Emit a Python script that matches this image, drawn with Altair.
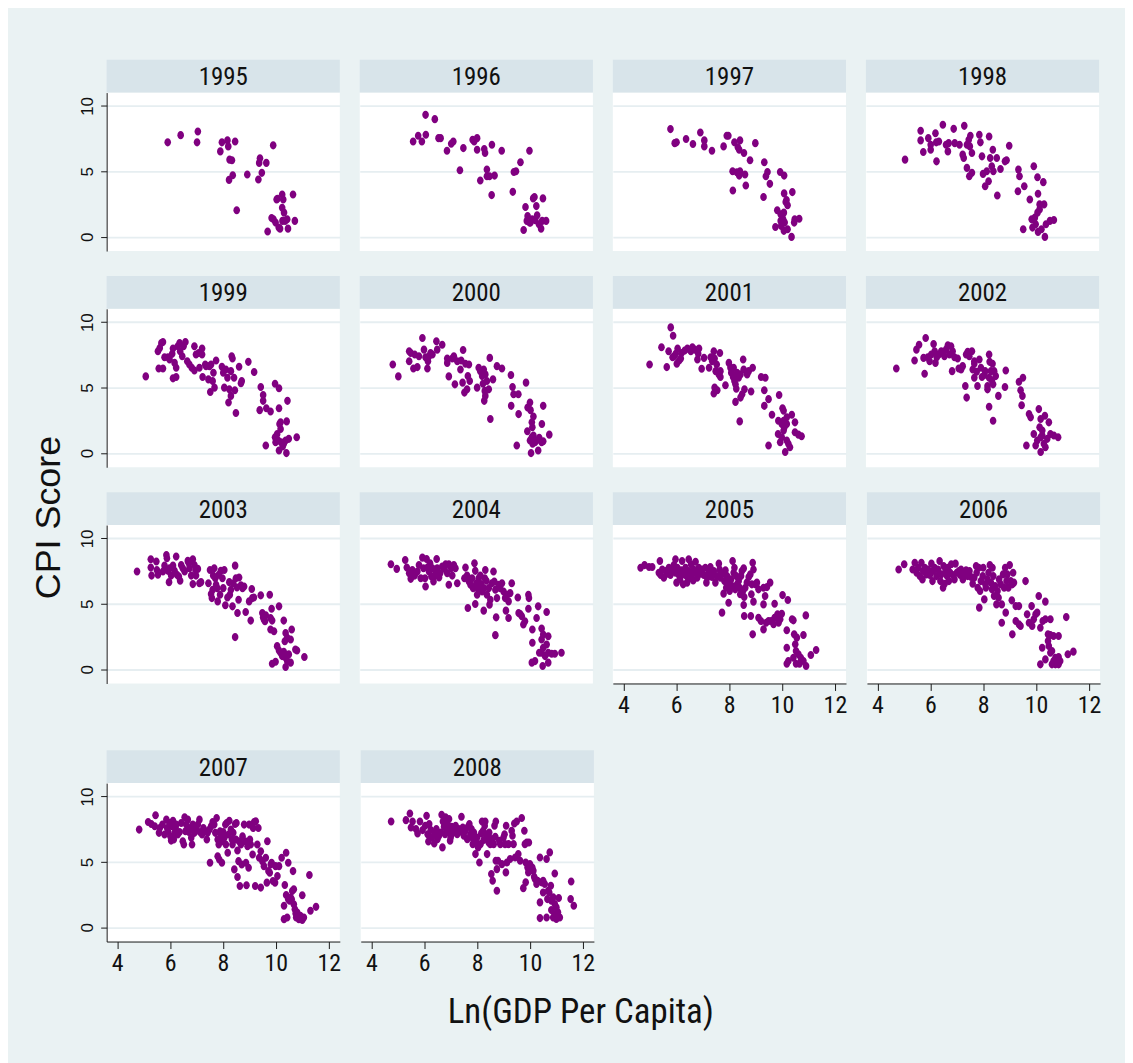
import altair as alt
import pandas as pd

# ---------------- data: (ln GDP per capita, CPI score) ----------------
years = [1995, 1996, 1997, 1998, 1999, 2000, 2001, 2002, 2003, 2004, 2005, 2006, 2007, 2008]

p1995 = [(5.91,7.22),(6.40,7.77),(7.02,7.22),(7.05,8.05),(7.90,6.53),(7.96,7.22),(8.17,7.37),(8.20,6.91),
         (8.46,7.29),(8.25,5.90),(8.34,5.85),(8.37,4.71),(8.23,4.35),(8.52,2.03),(8.92,4.76),(9.34,4.38),
         (9.37,5.65),(9.40,6.00),(9.47,4.89),(9.64,5.65),(9.90,6.99),(9.69,0.41),(9.84,1.44),(9.91,1.34),
         (9.99,1.09),(10.06,2.91),(10.11,0.71),(10.16,0.63),(10.24,3.24),(10.24,2.23),(10.28,2.86),(10.31,1.85),
         (10.25,1.22),(10.35,1.22),(10.43,1.34),(10.46,0.63),(10.65,3.24),(10.72,1.22),(10.03,2.86)]

p1996 = [(5.62,7.29),(5.81,7.72),(5.95,7.29),(6.10,7.80),(6.09,9.32),(6.44,8.99),(6.58,7.54),(6.66,7.54),
         (6.90,6.58),(7.06,7.11),(7.14,7.29),(7.39,5.09),(7.52,6.78),(7.87,7.42),(7.93,7.29),(8.04,7.54),
         (8.04,6.66),(8.31,6.71),(8.34,6.41),(8.16,4.30),(8.41,5.14),(8.41,4.63),(8.51,4.63),(8.60,7.04),
         (8.59,3.19),(8.70,4.68),(8.97,6.58),(9.39,3.44),(9.43,4.96),(9.51,5.01),(9.68,5.70),(10.02,6.58),
         (9.80,0.53),(9.87,2.28),(9.95,1.59),(9.97,1.27),(10.06,1.09),(10.12,1.34),(10.16,2.94),(10.21,3.04),
         (10.24,1.27),(10.28,2.35),(10.31,1.65),(10.38,0.96),(10.46,0.63),(10.50,1.22),(10.53,2.94),(10.65,1.22),
         (10.02,1.09),(9.92,1.22)]

p1997 = [(5.78,8.23),(5.94,7.16),(6.01,7.22),(6.37,7.47),(6.63,7.09),(6.91,7.97),(7.06,7.37),(7.06,6.91),
         (7.35,6.58),(7.79,6.91),(7.91,7.72),(7.97,7.72),(8.20,7.22),(8.33,6.84),(8.41,7.37),(8.38,6.66),
         (8.56,6.41),(8.79,5.85),(8.99,7.16),(9.33,5.70),(8.13,5.01),(8.29,4.94),(8.41,5.01),(8.38,4.68),
         (8.60,4.76),(8.63,3.92),(8.14,3.54),(9.45,4.96),(9.39,4.63),(9.54,4.05),(9.30,3.04),(9.93,4.96),
         (10.08,4.68),(10.08,3.32),(10.39,3.42),(10.14,2.66),(10.21,2.41),(10.17,2.81),(9.82,2.03),(9.95,1.72),
         (10.07,1.85),(10.04,1.34),(10.10,1.09),(9.75,0.76),(9.97,0.84),(10.07,0.46),(10.21,0.58),(10.46,1.09),
         (10.48,1.34),(10.65,1.39),(10.36,0.00),(9.95,1.22),(10.00,1.59)]

p1998 = [(5.08,5.90),(5.67,8.10),(5.67,7.37),(5.77,6.48),(5.96,7.54),(6.05,7.04),(6.05,6.66),(6.23,7.92),
         (6.26,7.22),(6.27,5.77),(6.36,7.29),(6.51,8.56),(6.63,7.04),(6.70,6.53),(6.73,7.16),(6.92,8.25),
         (6.96,7.16),(7.14,7.04),(7.26,6.28),(7.30,6.03),(7.32,8.48),(7.42,7.04),(7.49,7.42),(7.55,7.72),
         (7.61,6.41),(7.53,6.91),(7.42,5.27),(7.61,4.89),(7.51,4.63),(7.89,7.80),(7.93,7.22),(7.99,6.15),
         (8.03,4.81),(8.11,3.87),(8.17,5.01),(8.24,4.25),(8.26,7.67),(8.30,6.03),(8.36,5.39),(8.40,6.66),
         (8.42,5.01),(8.55,6.03),(8.57,3.16),(8.69,5.19),(8.86,5.77),(8.92,5.85),(9.02,6.96),(9.37,5.14),
         (9.41,4.63),(9.35,3.49),(9.59,3.87),(9.80,2.86),(9.95,5.39),(10.09,4.56),(10.31,4.18),(10.11,3.29),
         (10.17,2.48),(10.34,2.48),(10.09,1.85),(9.87,1.34),(9.90,0.71),(10.02,0.96),(10.11,0.38),(10.24,0.58),
         (10.37,0.00),(10.41,0.96),(10.56,1.22),(10.71,1.29),(9.55,0.58),(9.99,1.47),(10.17,2.10)]

p1999 = [(5.08,5.86),(5.54,7.78),(5.61,8.03),(5.67,8.41),(5.73,8.48),(5.57,6.46),(5.73,6.46),(5.79,7.32),
         (5.92,7.32),(5.98,7.15),(6.11,7.98),(6.08,7.58),(6.17,6.89),(6.23,6.52),(6.11,5.71),(6.23,5.81),
         (6.29,8.16),(6.36,8.41),(6.38,7.78),(6.46,7.40),(6.51,8.16),(6.58,8.48),(6.65,7.02),(6.73,6.77),
         (6.82,6.52),(6.92,8.16),(6.92,6.31),(6.98,7.53),(7.08,7.65),(7.21,7.98),(7.21,7.53),(7.11,6.52),
         (7.23,5.81),(7.36,6.64),(7.33,6.77),(7.45,5.63),(7.49,6.64),(7.55,6.77),(7.64,6.14),(7.61,5.51),
         (7.52,4.67),(7.68,5.00),(7.74,7.07),(7.96,6.59),(8.01,6.14),(8.05,5.00),(8.11,6.39),(8.17,5.76),
         (8.21,3.86),(8.24,4.87),(8.30,6.26),(8.30,4.37),(8.33,7.40),(8.36,7.22),(8.42,5.76),(8.45,4.80),
         (8.49,3.06),(8.61,6.59),(8.68,5.33),(8.71,5.51),(8.96,6.97),(9.18,6.19),(9.43,5.05),(9.52,4.44),
         (9.52,3.99),(9.39,3.28),(9.64,3.43),(9.80,3.18),(9.97,5.30),(10.12,4.95),(10.12,3.43),(10.14,2.22),
         (10.18,2.35),(10.18,1.84),(10.44,3.99),(10.41,2.42),(9.97,1.21),(9.99,0.83),(10.05,1.46),(10.09,0.96),
         (10.12,0.20),(10.20,0.83),(10.30,0.71),(10.37,0.96),(10.40,0.00),(10.49,1.09),(10.79,1.21),(9.62,0.58),
         (10.26,0.51)]

p2000 = [(4.85,6.77),(5.06,5.86),(5.47,7.78),(5.47,7.02),(5.53,7.65),(5.63,6.46),(5.68,7.53),(5.78,6.57),
         (5.84,7.40),(5.97,8.79),(6.03,7.90),(6.09,7.32),(6.16,6.46),(6.18,7.02),(6.22,7.40),(6.28,7.65),
         (6.35,7.53),(6.50,8.54),(6.53,7.90),(6.72,8.28),(6.91,6.89),(6.91,7.22),(6.97,5.86),(7.10,7.22),
         (7.16,7.40),(7.20,5.25),(7.29,7.02),(7.41,6.39),(7.44,7.07),(7.51,7.88),(7.49,5.38),(7.56,4.62),
         (7.60,6.82),(7.66,4.87),(7.69,5.88),(7.73,6.77),(7.76,5.51),(8.04,5.00),(8.10,6.52),(8.16,6.26),
         (8.23,5.88),(8.26,5.30),(8.29,6.39),(8.33,4.75),(8.35,6.01),(8.41,5.51),(8.31,3.99),(8.35,4.37),
         (8.48,4.87),(8.52,7.27),(8.54,2.60),(8.64,5.63),(8.79,6.64),(8.98,6.46),(9.32,5.96),(9.38,5.05),
         (9.42,4.49),(9.60,4.49),(9.89,5.38),(9.33,3.61),(9.61,2.98),(9.95,3.48),(10.04,3.86),(10.06,3.28),
         (10.17,2.80),(10.11,2.35),(10.13,1.97),(10.49,2.22),(10.54,3.61),(9.94,1.67),(10.04,0.96),(10.11,1.21),
         (10.17,1.34),(10.14,0.71),(10.23,0.83),(10.29,0.96),(10.39,1.16),(10.35,0.20),(10.48,0.83),(10.54,0.91),
         (10.77,1.41),(9.54,0.58),(10.08,0.00)]

p2001 = [(4.99,6.77),(5.44,8.08),(5.64,6.57),(5.71,7.78),(5.79,9.60),(5.88,8.96),(5.86,7.32),(5.92,7.40),
         (5.98,7.58),(6.02,6.82),(6.05,7.98),(6.11,7.07),(6.17,7.22),(6.20,7.65),(6.32,7.83),(6.42,7.98),
         (6.55,7.78),(6.61,8.08),(6.70,7.90),(6.80,7.15),(6.83,7.58),(6.86,7.98),(6.96,6.44),(7.05,7.27),
         (7.24,6.52),(7.30,7.32),(7.36,7.02),(7.42,7.78),(7.45,7.22),(7.49,6.26),(7.53,6.77),(7.61,6.01),
         (7.65,7.65),(7.67,6.26),(7.67,5.81),(7.45,5.00),(7.42,4.55),(7.55,4.80),(7.86,5.18),(7.99,6.89),
         (8.05,6.52),(8.08,6.14),(8.15,5.81),(8.17,6.52),(8.20,5.51),(8.24,5.25),(8.27,4.92),(8.30,6.14),
         (8.36,5.76),(8.43,6.01),(8.49,4.49),(8.55,6.39),(8.53,7.15),(8.58,4.87),(8.68,6.01),(8.74,6.26),
         (8.83,4.70),(8.89,6.52),(8.24,3.91),(8.43,4.24),(8.40,2.42),(9.21,5.81),(9.37,5.76),(9.33,4.80),
         (9.49,4.12),(9.33,3.61),(9.62,2.93),(9.89,4.44),(10.02,3.43),(10.06,3.23),(10.06,2.47),(9.86,2.47),
         (9.99,2.22),(10.18,2.22),(10.37,2.93),(10.49,2.35),(9.85,1.46),(9.93,0.83),(9.99,1.21),(10.06,1.72),
         (10.18,0.96),(10.24,0.71),(10.30,0.45),(10.12,0.08),(10.49,1.59),(10.62,1.41),(10.74,1.29),(9.49,0.58),
         (10.18,2.73),(10.09,1.97)]

p2002 = [(4.75,6.46),(5.44,7.07),(5.51,7.90),(5.61,8.28),(5.82,6.06),(5.78,7.27),(5.86,8.79),(5.94,7.32),
         (6.01,7.02),(6.07,7.53),(6.16,8.33),(6.20,7.78),(6.23,6.89),(6.28,7.32),(6.36,7.53),(6.45,7.78),
         (6.51,7.65),(6.57,7.40),(6.63,7.90),(6.70,8.23),(6.76,7.53),(6.82,8.16),(6.88,7.78),(6.86,6.26),
         (6.95,7.32),(7.07,7.22),(7.11,6.46),(7.20,6.39),(7.26,6.64),(7.36,5.13),(7.41,4.24),(7.39,7.53),
         (7.45,7.73),(7.51,7.40),(7.61,7.78),(7.70,7.02),(7.64,6.39),(7.70,5.76),(7.70,6.82),(7.79,6.21),
         (7.82,5.13),(7.89,7.15),(7.95,6.52),(7.99,5.81),(8.08,5.96),(8.11,6.26),(8.20,5.13),(8.20,4.87),
         (8.26,7.53),(8.28,6.97),(8.26,5.76),(8.33,6.26),(8.36,5.56),(8.39,6.82),(8.41,5.25),(8.45,6.26),
         (8.51,5.88),(8.61,4.37),(8.26,3.54),(8.41,2.47),(8.86,5.05),(8.89,6.31),(9.39,5.45),(9.54,5.76),
         (9.45,4.80),(9.52,4.37),(9.49,3.66),(9.77,2.98),(9.83,2.73),(10.14,3.36),(10.21,2.60),(10.17,1.97),
         (10.37,2.85),(10.52,2.35),(9.95,1.46),(10.02,0.58),(10.08,0.96),(10.21,1.21),(10.27,1.72),(10.33,0.71),
         (10.39,0.45),(10.21,0.08),(10.46,1.09),(10.58,1.46),(10.71,1.34),(10.87,1.21),(9.67,0.58),(10.27,1.34)]

p2003 = [(4.75,7.47),(5.27,8.41),(5.27,7.77),(5.30,7.16),(5.48,8.23),(5.50,7.59),(5.54,7.22),(5.73,7.47),
         (5.79,7.92),(5.86,8.73),(5.88,8.48),(5.92,7.52),(5.96,6.66),(5.98,7.72),(6.04,7.16),(6.11,7.92),
         (6.17,7.52),(6.23,8.61),(6.26,7.22),(6.33,7.09),(6.38,6.76),(6.42,7.97),(6.48,7.72),(6.55,7.47),
         (6.67,8.28),(6.71,8.10),(6.73,7.72),(6.80,7.16),(6.86,6.51),(6.86,8.41),(6.92,7.97),(6.96,7.59),
         (6.98,7.16),(7.05,7.67),(7.11,6.58),(7.17,6.66),(7.45,6.58),(7.51,7.59),(7.55,5.75),(7.58,5.44),
         (7.61,6.08),(7.63,7.16),(7.67,7.72),(7.71,6.96),(7.74,6.46),(7.78,6.20),(7.80,5.19),(7.84,7.22),
         (7.89,5.70),(7.92,7.52),(7.98,6.96),(8.01,6.20),(8.05,7.59),(8.09,4.89),(8.17,5.49),(8.24,6.66),
         (8.26,5.70),(8.30,6.08),(8.36,4.81),(8.39,6.58),(8.46,7.92),(8.49,6.96),(8.53,6.25),(8.55,4.30),
         (8.59,5.32),(8.61,7.01),(8.68,6.41),(8.74,6.20),(8.80,6.33),(8.86,4.38),(8.99,5.19),(9.05,3.72),
         (9.09,6.13),(9.11,5.44),(9.17,5.49),(9.43,5.65),(9.49,4.30),(9.52,3.97),(9.55,3.80),(9.59,3.67),
         (9.62,4.13),(9.77,5.70),(9.80,3.92),(9.84,4.63),(9.86,3.72),(9.80,3.04),(9.93,2.91),(10.12,4.81),
         (8.46,2.46),(10.30,3.72),(10.37,2.78),(10.34,2.15),(10.43,2.41),(10.56,2.28),(10.60,3.04),(10.05,1.77),
         (10.12,1.44),(10.18,1.27),(10.24,1.01),(10.30,1.34),(10.37,0.89),(10.43,0.63),(10.49,1.14),(10.56,0.51),
         (10.27,1.19),(9.86,0.43),(9.99,0.58),(10.37,0.18),(10.74,1.52),(10.80,1.44),(11.08,0.94)]

p2004 = [(4.78,8.03),(5.00,7.67),(5.32,8.35),(5.38,7.77),(5.47,7.34),(5.53,6.91),(5.59,7.59),(5.68,7.16),
         (5.78,7.47),(5.84,7.97),(5.91,6.96),(5.97,8.53),(6.01,7.72),(6.07,6.96),(6.09,6.33),(6.13,8.43),
         (6.16,7.77),(6.22,7.47),(6.26,8.10),(6.31,7.09),(6.35,7.72),(6.39,6.71),(6.43,7.16),(6.47,7.47),
         (6.51,8.43),(6.53,7.72),(6.60,7.01),(6.64,7.34),(6.72,7.85),(6.81,7.67),(6.85,8.03),(6.91,7.34),
         (6.97,6.46),(6.97,8.03),(7.06,7.72),(7.10,7.16),(7.16,7.97),(7.22,7.72),(7.29,6.58),(7.56,6.96),
         (7.60,7.77),(7.66,7.16),(7.73,6.71),(7.79,6.46),(7.85,6.96),(7.89,6.20),(7.94,8.10),(7.97,7.52),
         (8.01,6.58),(8.04,5.70),(8.06,6.20),(8.10,6.96),(8.16,7.16),(8.19,6.51),(8.23,5.95),(8.29,6.20),
         (8.33,6.96),(8.35,7.59),(8.39,6.76),(8.41,5.70),(8.48,6.20),(8.51,4.94),(8.54,5.32),(8.60,6.58),
         (8.66,7.47),(8.69,6.71),(8.73,6.08),(8.79,5.44),(8.85,6.46),(8.91,6.20),(8.98,6.58),(9.04,5.95),
         (9.10,5.44),(9.17,5.70),(9.23,5.19),(9.29,5.82),(9.35,6.58),(7.69,4.68),(7.97,4.99),(8.29,4.48),
         (8.76,3.97),(8.73,2.61),(9.13,4.48),(9.23,3.92),(9.58,5.49),(9.61,4.30),(9.67,4.23),(9.73,4.05),
         (9.79,3.42),(9.85,3.67),(9.98,5.70),(10.00,5.44),(9.98,4.63),(10.13,3.04),(10.29,3.92),(10.35,4.81),
         (10.67,4.38),(10.48,3.11),(10.54,2.66),(10.48,2.28),(10.73,2.53),(10.13,2.03),(10.39,1.27),(10.48,1.27),
         (10.54,1.65),(10.61,1.01),(10.73,1.27),(10.86,1.19),(10.98,1.19),(11.23,1.27),(10.11,0.51),(10.23,0.63),
         (10.52,0.25),(10.73,0.51),(10.67,1.90)]

p2005 = [(4.65,7.76),(4.80,7.96),(4.97,7.81),(5.09,7.81),(5.38,8.27),(5.34,7.38),(5.41,7.20),(5.47,7.63),
         (5.53,7.00),(5.60,7.51),(5.66,7.30),(5.72,7.76),(5.78,7.20),(5.85,7.51),(5.91,7.96),(5.97,8.40),
         (5.97,7.38),(6.01,6.62),(6.04,7.76),(6.10,7.20),(6.14,6.87),(6.19,7.56),(6.22,8.27),(6.26,6.49),
         (6.29,7.25),(6.35,7.76),(6.39,7.12),(6.41,6.62),(6.47,8.40),(6.47,7.51),(6.54,7.00),(6.56,8.02),
         (6.60,7.25),(6.64,6.79),(6.66,7.63),(6.73,8.22),(6.76,7.38),(6.79,7.00),(6.85,7.76),(6.91,7.30),
         (6.98,7.63),(7.04,7.20),(7.10,7.76),(7.14,6.62),(7.17,7.00),(7.23,7.38),(7.29,7.81),(7.35,7.05),
         (7.42,7.51),(7.48,6.62),(7.54,7.12),(7.61,8.07),(7.64,7.63),(7.67,7.00),(7.73,7.30),(7.79,5.78),
         (7.82,6.74),(7.86,7.56),(7.89,6.23),(7.92,7.12),(7.98,6.62),(8.02,5.98),(8.07,6.87),(8.11,6.36),
         (8.13,8.27),(8.17,7.38),(8.20,7.76),(8.23,6.11),(8.27,7.12),(8.30,6.49),(8.36,6.74),(8.40,6.23),
         (8.42,5.73),(8.45,7.12),(8.48,7.51),(8.52,5.98),(8.55,7.71),(8.57,5.52),(8.55,4.91),(8.61,6.23),
         (8.67,6.62),(8.74,7.05),(8.80,7.25),(8.86,6.49),(8.89,8.14),(8.92,7.63),(8.99,6.49),(9.05,6.62),
         (8.84,5.73),(8.92,5.17),(9.11,6.11),(9.30,6.23),(9.36,5.60),(9.43,6.28),(9.55,6.62),(9.30,4.96),
         (9.72,5.01),(10.02,5.67),(10.22,5.29),(7.73,4.33),(7.98,5.09),(8.57,4.07),(8.82,4.07),(9.11,3.94),
         (9.20,3.69),(9.30,3.05),(9.40,3.56),(9.49,3.69),(9.59,3.69),(9.68,3.44),(9.72,3.94),(9.78,3.99),
         (9.83,4.20),(9.87,3.56),(9.93,3.82),(9.99,4.25),(10.38,3.82),(10.43,3.74),(10.90,4.12),(8.89,2.67),
         (10.18,2.98),(10.46,2.67),(10.56,2.42),(10.81,2.62),(10.50,1.91),(10.18,1.65),(10.53,1.40),(10.62,1.15),
         (10.71,0.89),(10.81,0.64),(10.91,0.25),(10.66,0.43),(10.53,0.43),(10.24,0.64),(10.18,0.43),(11.09,1.09),
         (11.29,1.48),(10.43,0.89)]

p2006 = [(4.80,7.63),(5.01,8.02),(5.33,7.63),(5.41,8.14),(5.48,7.38),(5.54,7.76),(5.60,7.12),(5.66,8.14),
         (5.70,6.87),(5.73,7.51),(5.79,7.76),(5.85,7.25),(5.91,7.63),(5.98,7.20),(6.04,8.07),(6.08,6.74),
         (6.10,7.51),(6.16,7.76),(6.23,7.12),(6.29,7.63),(6.35,8.27),(6.38,6.74),(6.41,7.25),(6.48,6.23),
         (6.50,7.89),(6.54,6.54),(6.58,7.51),(6.63,7.12),(6.66,7.76),(6.70,6.74),(6.75,7.38),(6.79,8.02),
         (6.85,7.20),(6.91,6.87),(6.95,8.07),(7.00,7.38),(7.08,7.51),(7.13,7.20),(7.16,7.63),(7.23,6.87),
         (7.29,7.25),(7.35,7.56),(7.41,7.12),(7.48,7.51),(7.54,7.05),(7.60,6.54),(7.66,7.00),(7.73,7.89),
         (7.75,7.38),(7.79,6.23),(7.83,7.76),(7.88,5.98),(7.91,6.74),(7.98,7.12),(8.00,7.76),(8.04,5.34),
         (8.08,6.49),(8.10,6.23),(8.16,6.87),(8.20,7.38),(8.25,7.96),(8.29,6.62),(8.33,6.11),(8.35,7.76),
         (8.38,7.12),(8.41,5.60),(8.45,6.36),(8.50,4.96),(8.54,5.98),(8.58,5.47),(8.60,6.87),(8.66,6.49),
         (8.70,4.96),(8.75,7.25),(8.79,6.23),(8.83,7.76),(8.88,6.74),(8.91,7.25),(8.95,6.23),(9.00,7.96),
         (9.04,6.74),(9.10,6.49),(9.13,7.38),(9.16,6.62),(9.08,5.27),(9.23,4.83),(7.85,4.71),(8.70,3.56),
         (8.85,4.33),(9.10,2.67),(9.23,3.69),(9.35,3.44),(9.41,3.31),(9.35,4.83),(9.60,6.74),(9.66,4.20),
         (9.73,3.56),(9.83,4.83),(9.85,3.31),(9.91,3.82),(9.98,4.20),(10.04,4.33),(10.10,5.60),(10.16,3.18),
         (10.25,3.69),(10.35,5.17),(10.35,3.82),(10.54,3.82),(10.45,2.67),(10.54,2.62),(10.66,2.54),(10.85,2.54),
         (10.45,2.16),(10.48,1.78),(10.23,1.65),(10.54,1.27),(10.60,1.40),(10.66,0.64),(10.73,0.89),(10.85,0.94),
         (10.91,0.64),(10.73,0.38),(10.60,0.38),(10.16,0.38),(10.35,0.76),(11.20,1.15),(11.41,1.35),(11.14,3.99),
         (10.85,0.38)]

p2007 = [(4.83,7.47),(5.17,8.05),(5.29,7.90),(5.45,8.56),(5.42,7.72),(5.58,7.22),(5.61,7.59),(5.71,7.85),
         (5.79,7.09),(5.86,8.23),(5.89,7.59),(5.92,7.34),(5.98,7.97),(6.01,6.96),(6.04,6.63),(6.08,7.72),
         (6.11,8.15),(6.14,6.71),(6.17,7.22),(6.21,7.59),(6.23,7.85),(6.29,7.09),(6.36,7.29),(6.42,7.97),
         (6.48,6.58),(6.52,6.33),(6.55,8.41),(6.58,7.34),(6.61,7.85),(6.67,8.23),(6.71,7.29),(6.76,7.59),
         (6.80,6.84),(6.83,6.33),(6.86,7.85),(6.92,7.22),(6.98,7.47),(7.05,7.85),(7.11,8.23),(7.13,7.29),
         (7.21,7.09),(7.26,7.59),(7.34,7.34),(7.39,6.71),(7.42,7.22),(7.49,7.47),(7.51,4.94),(7.55,7.72),
         (7.61,8.05),(7.67,7.85),(7.71,7.22),(7.76,8.35),(7.80,6.71),(7.84,6.33),(7.80,5.44),(7.86,5.19),
         (7.89,7.34),(7.92,6.96),(7.96,4.94),(7.99,6.58),(8.01,7.29),(8.05,6.84),(8.09,7.85),(8.11,6.33),
         (8.14,7.97),(8.18,5.70),(8.21,7.09),(8.24,8.15),(8.30,7.47),(8.34,6.71),(8.36,6.33),(8.39,7.22),
         (8.43,4.43),(8.46,7.90),(8.49,6.71),(8.51,7.97),(8.55,5.87),(8.55,3.85),(8.59,5.06),(8.61,6.58),
         (8.64,3.16),(8.68,6.33),(8.71,4.81),(8.74,6.96),(8.80,7.85),(8.84,6.58),(8.87,4.94),(8.89,3.22),
         (8.93,6.20),(8.97,4.56),(8.99,7.85),(9.02,6.71),(9.05,6.33),(9.12,5.57),(9.14,7.59),(9.18,8.05),
         (9.22,3.16),(9.24,8.10),(9.30,6.33),(9.34,7.59),(9.37,5.32),(9.43,3.04),(9.43,5.82),(9.49,5.06),
         (9.55,4.68),(9.62,5.32),(9.66,3.42),(9.68,6.58),(9.72,4.30),(9.77,4.18),(9.81,4.81),(9.84,4.94),
         (9.89,3.54),(9.97,3.42),(9.99,4.68),(10.06,3.92),(10.12,4.68),(10.22,5.32),(10.34,3.24),(10.31,1.65),
         (10.39,5.70),(10.39,2.48),(10.47,4.94),(10.47,2.15),(10.52,2.03),(10.56,2.28),(10.60,2.15),(10.62,2.78),
         (10.65,4.30),(10.68,1.77),(10.68,2.91),(10.72,1.39),(10.75,1.06),(10.77,0.76),(10.81,1.14),(10.87,0.63),
         (10.93,0.89),(11.00,0.56),(11.06,0.76),(11.00,2.46),(11.27,4.00),(11.31,1.27),(11.52,1.57),(10.31,0.63),
         (10.43,0.76)]

p2008 = [(4.75,8.09),(5.31,8.19),(5.46,8.70),(5.50,7.63),(5.56,8.09),(5.69,7.51),(5.75,7.18),(5.84,8.09),
         (5.94,7.43),(6.04,7.76),(6.09,8.52),(6.13,7.12),(6.16,6.56),(6.19,7.89),(6.25,7.43),(6.29,6.87),
         (6.38,6.41),(6.41,7.12),(6.46,7.51),(6.50,6.74),(6.56,7.00),(6.63,7.25),(6.66,8.60),(6.69,6.11),
         (6.71,8.09),(6.75,7.68),(6.79,7.12),(6.81,8.40),(6.84,7.51),(6.88,7.89),(6.91,7.33),(6.94,8.27),
         (6.98,6.62),(7.00,6.87),(7.04,7.68),(7.06,7.18),(7.13,7.43),(7.19,7.76),(7.25,7.12),(7.31,7.51),
         (7.38,7.33),(7.41,8.45),(7.46,7.63),(7.50,7.00),(7.56,7.38),(7.63,6.74),(7.66,7.68),(7.71,7.89),
         (7.75,7.12),(7.79,7.51),(7.81,6.87),(7.84,6.36),(7.88,7.25),(7.94,5.60),(7.96,6.49),(8.00,6.87),
         (8.04,6.11),(8.09,4.96),(8.13,6.36),(8.16,7.18),(8.19,8.09),(8.23,7.38),(8.25,6.67),(8.29,7.76),
         (8.31,8.09),(8.34,7.12),(8.38,5.60),(8.41,6.87),(8.44,6.49),(8.46,7.25),(8.50,6.36),(8.54,4.07),
         (8.56,6.74),(8.59,3.56),(8.63,6.36),(8.66,7.76),(8.69,6.92),(8.71,8.09),(8.71,5.09),(8.75,2.80),
         (8.75,4.45),(8.79,5.09),(8.84,6.62),(8.88,6.36),(8.94,4.83),(9.00,6.87),(9.04,7.12),(9.06,6.36),
         (9.09,4.20),(9.10,7.76),(9.13,4.96),(9.19,6.36),(9.25,5.22),(9.31,7.38),(9.34,7.00),(9.38,6.36),
         (9.41,7.94),(9.44,5.34),(9.50,8.09),(9.56,5.60),(9.63,5.09),(9.69,8.35),(9.75,3.00),(9.79,7.38),
         (9.81,6.36),(9.84,3.44),(9.84,4.96),(9.88,6.49),(9.91,4.58),(9.94,4.20),(9.96,6.49),(10.00,4.83),
         (10.04,4.38),(10.09,4.58),(10.13,4.33),(10.16,3.87),(10.19,3.69),(10.25,3.31),(10.29,3.56),(10.38,5.34),
         (10.44,3.44),(10.50,3.56),(10.50,2.67),(10.56,3.31),(10.63,5.22),(10.66,2.16),(10.69,2.80),(10.73,2.67),
         (10.75,5.73),(10.79,3.18),(10.81,2.04),(10.88,2.29),(10.94,4.12),(10.94,1.78),(11.00,1.53),(11.09,2.24),
         (11.56,3.51),(11.54,2.16),(11.66,1.65),(10.38,1.91),(10.38,0.71),(10.63,0.76),(10.81,1.32),(10.88,0.76),
         (10.94,1.02),(11.00,0.64),(11.09,0.81),(11.13,0.76),(11.06,1.15)]

series = dict(zip(years, [p1995, p1996, p1997, p1998, p1999, p2000, p2001,
                          p2002, p2003, p2004, p2005, p2006, p2007, p2008]))

x_ticks = [4, 6, 8, 10, 12]
y_ticks = [0, 5, 10]
x_title = "Ln(GDP Per Capita)"
y_title = "CPI Score"

# ---------------- styling ----------------
W, H, HEAD = 234, 159, 33
XDOM = [3.6, 12.42]
YDOM = [-1.08, 11.02]
BG = "#EAF2F3"
HEADBG = "#D8E4EA"
GRID = "#E6EEF1"
PURPLE = "#800080"
AXC = "#1a1a1a"
NARROW = "Roboto Condensed, Liberation Sans Narrow, DejaVu Sans Condensed, Liberation Sans, sans-serif"
REG = "Liberation Sans, Arial, sans-serif"
k = 0.5523
rx = 0.82
ELLIPSE = (f"M {rx} 0 C {rx} {k} {rx*k:.4f} 1 0 1 C {-rx*k:.4f} 1 {-rx} {k} {-rx} 0 "
           f"C {-rx} {-k} {-rx*k:.4f} -1 0 -1 C {rx*k:.4f} -1 {rx} {-k} {rx} 0 Z")


def panel(year, show_y, show_x):
    df = pd.DataFrame(series[year], columns=["gdp", "cpi"])
    if show_x:
        xax = alt.Axis(values=x_ticks, grid=False, tickSize=7, labelPadding=3,
                       labelFont=NARROW, labelFontSize=24, labelColor="#111",
                       domainColor=AXC, tickColor=AXC, labelFlush=False)
        xenc = alt.X("gdp:Q", scale=alt.Scale(domain=XDOM, nice=False, zero=False),
                     axis=xax, title=None)
    else:
        xenc = alt.X("gdp:Q", scale=alt.Scale(domain=XDOM, nice=False, zero=False),
                     axis=None)
    if show_y:
        yax = alt.Axis(values=y_ticks, grid=True, gridColor=GRID, gridWidth=1.8,
                       tickSize=6, labelPadding=4, labelAngle=270,
                       labelFont=REG, labelFontSize=17, labelColor="#111",
                       domainColor=AXC, tickColor=AXC)
    else:
        yax = alt.Axis(values=y_ticks, grid=True, gridColor=GRID, gridWidth=1.8,
                       labels=False, ticks=False, domain=False)
    yenc = alt.Y("cpi:Q", scale=alt.Scale(domain=YDOM, nice=False, zero=False),
                 axis=yax, title=None)

    pts = alt.Chart(df).mark_point(shape=ELLIPSE, filled=True, size=66,
                                   color=PURPLE, opacity=1).encode(x=xenc, y=yenc)
    lab = pd.DataFrame({"label": [str(year)]})
    band = alt.Chart(lab).mark_rect(color=HEADBG).encode(
        x=alt.value(0), x2=alt.value(W), y=alt.value(-HEAD), y2=alt.value(0))
    txt = alt.Chart(lab).mark_text(font=NARROW, fontSize=25, color="#111",
                                   baseline="middle", align="center").encode(
        x=alt.value(W / 2), y=alt.value(-HEAD / 2 + 1), text="label:N")
    return alt.layer(band, txt, pts).properties(width=W, height=H)


bottom_years = {2005, 2006, 2007, 2008}
rows = []
for r in range(4):
    ys = years[r * 4:(r + 1) * 4]
    cells = [panel(y, show_y=(i == 0), show_x=(y in bottom_years)) for i, y in enumerate(ys)]
    rows.append(alt.hconcat(*cells, spacing=20))

upper = alt.vconcat(rows[0], rows[1], rows[2], spacing=25)
grid = alt.vconcat(upper, rows[3], spacing=33).properties(
    title=alt.TitleParams(y_title, orient="left", anchor="middle", font=REG,
                          fontSize=36, fontWeight="normal", color="#111", offset=11))

chart = alt.vconcat(grid).properties(
    title=alt.TitleParams(x_title, orient="bottom", anchor="middle", font=NARROW,
                          fontSize=35, fontWeight="normal", color="#111", offset=20, dx=15),
    background=BG,
    padding={"left": 22, "top": 50, "right": 24, "bottom": 32},
).configure_view(fill="white", strokeWidth=0)

chart.save("out.html", embed_options={"renderer": "svg", "actions": False})
